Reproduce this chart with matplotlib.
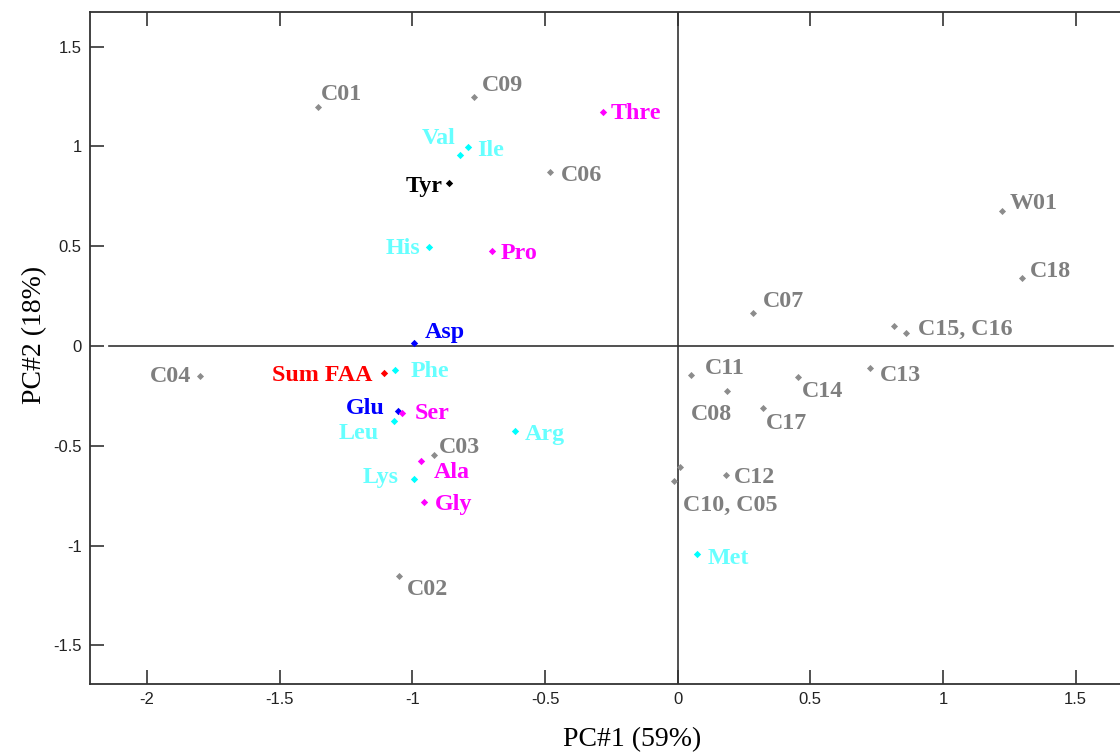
import matplotlib
matplotlib.use("Agg")
import matplotlib.pyplot as plt

# sample scores (grey)
sample_names = ["C01", "C02", "C03", "C04", "C05", "C06", "C07", "C08", "C09", "C10",
                "C11", "C12", "C13", "C14", "C15", "C16", "C17", "C18", "W01"]
sample_x = [-1.356, -1.051, -0.919, -1.800, -0.015, -0.482, 0.282, 0.185, -0.768, 0.008,
            0.049, 0.181, 0.723, 0.452, 0.814, 0.862, 0.320, 1.299, 1.224]
sample_y = [1.198, -1.153, -0.546, -0.150, -0.677, 0.872, 0.165, -0.226, 1.248, -0.607,
            -0.145, -0.647, -0.110, -0.155, 0.100, 0.065, -0.311, 0.341, 0.677]

# amino acid loadings
aa_names = ["Thre", "Val", "Ile", "Tyr", "His", "Pro", "Asp", "Sum FAA", "Phe", "Glu",
            "Ser", "Leu", "Arg", "Ala", "Lys", "Gly", "Met"]
aa_x = [-0.282, -0.821, -0.791, -0.862, -0.938, -0.700, -0.994, -1.107, -1.066, -1.055,
        -1.040, -1.070, -0.614, -0.968, -0.994, -0.957, 0.072]
aa_y = [1.173, 0.957, 0.997, 0.817, 0.496, 0.476, 0.015, -0.135, -0.120, -0.326,
        -0.336, -0.376, -0.426, -0.576, -0.667, -0.782, -1.043]
aa_group = ["mag", "cyan", "cyan", "black", "cyan", "mag", "blue", "red", "cyan", "blue",
            "mag", "cyan", "cyan", "mag", "cyan", "mag", "cyan"]

# labels for samples that share one tag
merged_labels = {"C16": "C15, C16", "C05": "C10, C05", "C15": None, "C10": None}

point_col = {"mag": "#ff00ff", "cyan": "#00ffff", "black": "#000000", "blue": "#0000ff", "red": "#ff0000"}
text_col = {"mag": "#ff00ff", "cyan": "#66ffff", "black": "#000000", "blue": "#0000ff", "red": "#ff0000"}
grey_pt = "#8c8c8c"
grey_txt = "#7f7f7f"

# label offsets in pixels (dx, dy, ha)
offsets = {
    "C01": (3, 15, "left"), "C09": (8, 14, "left"), "C06": (11, -1, "left"),
    "W01": (7, 10, "left"), "C18": (8, 9, "left"), "C07": (10, 14, "left"),
    "C16": (12, 6, "left"), "C13": (10, -5, "left"), "C11": (14, 9, "left"),
    "C14": (4, -12, "left"), "C08": (-36, -21, "left"), "C17": (3, -13, "left"),
    "C12": (8, 0, "left"), "C05": (9, -22, "left"), "C04": (-9, 2, "right"),
    "C03": (5, 10, "left"), "C02": (8, -11, "left"),
    "Thre": (8, 1, "left"), "Val": (-4, 19, "right"), "Ile": (9, -1, "left"),
    "Tyr": (-6, -1, "right"), "His": (-8, 1, "right"), "Pro": (9, 0, "left"),
    "Asp": (11, 13, "left"), "Sum FAA": (-11, 0, "right"), "Phe": (16, 1, "left"),
    "Glu": (-13, 5, "right"), "Ser": (13, 2, "left"), "Leu": (-15, -10, "right"),
    "Arg": (10, -1, "left"), "Ala": (13, -9, "left"), "Lys": (-15, 4, "right"),
    "Gly": (11, 0, "left"), "Met": (11, -2, "left"),
}

fig = plt.figure(figsize=(11.2, 7.52), dpi=100)
ax = fig.add_axes([90 / 1120, 1 - 684 / 752, 1 - 90 / 1120, (684 - 12) / 752])
ax.set_xlim(-2.215, 1.667)
ax.set_ylim(-1.694, 1.674)

lab_font = dict(family="Liberation Serif", weight="bold", size=17.3)

ax.scatter(sample_x, sample_y, s=13, marker="D", color=grey_pt, linewidths=0, zorder=3)
for name, x, y in zip(sample_names, sample_x, sample_y):
    text = merged_labels.get(name, name)
    if text is None:
        continue
    dx, dy, ha = offsets[name]
    ax.annotate(text, (x, y), xytext=(dx, dy), textcoords="offset pixels",
                ha=ha, va="center_baseline", color=grey_txt, **lab_font)

for name, x, y, g in zip(aa_names, aa_x, aa_y, aa_group):
    ax.scatter([x], [y], s=14, marker="D", color=point_col[g], linewidths=0, zorder=3)
    dx, dy, ha = offsets[name]
    ax.annotate(name, (x, y), xytext=(dx, dy), textcoords="offset pixels",
                ha=ha, va="center_baseline", color=text_col[g], **lab_font)

# zero lines
ax.axvline(0, color="#333333", lw=1.2, zorder=1)
ax.axhline(0, xmin=0.018, xmax=0.993, color="#333333", lw=1.2, zorder=1)

for side in ["left", "bottom", "top"]:
    ax.spines[side].set_color("#333333")
    ax.spines[side].set_linewidth(1.3)
ax.spines["right"].set_visible(False)

ax.set_xticks([-2, -1.5, -1, -0.5, 0, 0.5, 1, 1.5])
ax.set_xticklabels(["-2", "-1.5", "-1", "-0.5", "0", "0.5", "1", "1.5"])
ax.set_yticks([-1.5, -1, -0.5, 0, 0.5, 1, 1.5])
ax.set_yticklabels(["-1.5", "-1", "-0.5", "0", "0.5", "1", "1.5"])
ax.tick_params(axis="both", direction="in", length=10, width=1.2, color="#333333",
               labelsize=12, pad=6)
ax.tick_params(axis="x", top=True, labeltop=False)
for lbl in ax.get_xticklabels() + ax.get_yticklabels():
    lbl.set_fontfamily("Liberation Sans")
    lbl.set_color("#222222")

fig.text(632 / 1120, 1 - 740 / 752, "PC#1 (59%)", family="Liberation Serif",
         size=20, ha="center", va="center")
fig.text(35 / 1120, 1 - 335 / 752, "PC#2 (18%)", family="Liberation Serif",
         size=20, ha="center", va="center", rotation=90)

fig.savefig("out.png", dpi=100)
